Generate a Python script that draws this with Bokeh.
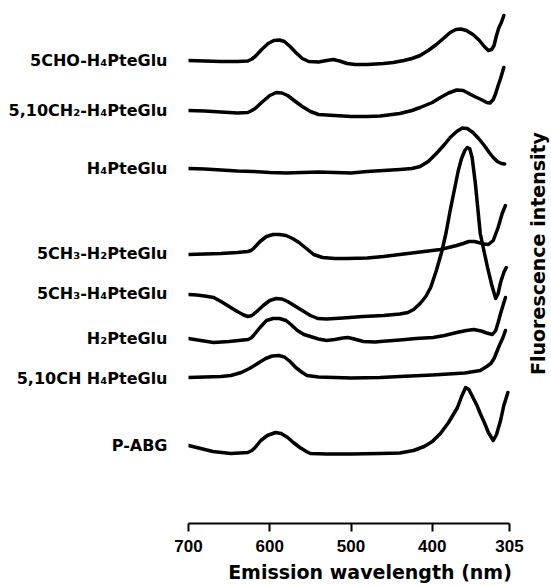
from bokeh.plotting import figure
from bokeh.models import Range1d, FixedTicker, Label
from bokeh.embed import file_html
from bokeh.resources import INLINE

# ---- data (emission wavelength in nm, relative intensity, arbitrary units) ----
labels = ["5CHO-H₄PteGlu", "5,10CH₂-H₄PteGlu", "H₄PteGlu", "5CH₃-H₂PteGlu",
          "5CH₃-H₄PteGlu", "H₂PteGlu", "5,10CH H₄PteGlu", "P-ABG"]
offsets = [463, 413, 355, 270, 230, 185, 145, 78]
x_ticks = [700, 600, 500, 400, 305]

wl_1 = [700, 680, 660, 640, 627, 622, 618, 610, 602, 595, 588, 582, 575, 568, 560, 552, 540, 530, 522, 514, 505,
        495, 480, 460, 448, 435, 425, 415, 405, 395, 385, 378, 371, 365, 358, 350, 342, 336, 331, 327, 324,
        321, 318, 315, 312]
int_1 = [0, -0.5, -1, -1, -0.5, 1.5, 4, 11, 17, 20, 20.5, 19, 14, 8, 2, -1, -1.5, 0, 1, -0.5, -3,
         -4, -4, -3, -2, 0, 2, 5, 10, 16, 23, 28, 31, 31.5, 30, 26, 20, 14, 10, 11, 15,
         25, 33, 38, 45]

wl_2 = [700, 680, 660, 640, 627, 622, 618, 610, 600, 592, 585, 578, 570, 560, 550, 540, 520, 500, 480, 464, 440,
        425, 415, 400, 390, 380, 370, 362, 355, 348, 340, 333, 329, 325, 322, 319, 316, 312]
int_2 = [0, -0.5, -1.5, -2.5, -2, 0, 2, 8, 15, 18, 17.5, 15, 10, 4, -1, -4, -5, -6, -6, -5.5, -3,
         0, 3, 8, 13, 17.5, 20.5, 20, 17, 14, 11, 8, 7.5, 11, 17, 25, 32, 43]

wl_3 = [700, 680, 660, 640, 620, 600, 580, 560, 540, 520, 500, 480, 460, 440, 425, 415, 405, 395, 385, 378,
        370, 363, 357, 350, 343, 336, 330, 325, 320, 315, 311]
int_3 = [0, -0.5, -1.5, -2.5, -3, -4, -4.5, -4, -3.5, -4, -4.5, -3, -2, -1, 0, 2, 7, 15, 24, 31,
         37, 40.5, 40, 36, 30, 23, 16, 11, 7, 5, 4.5]

wl_4 = [700, 680, 660, 640, 627, 623, 620, 612, 604, 596, 588, 580, 572, 564, 555, 546, 535, 520, 505, 480, 460,
        440, 420, 400, 390, 380, 370, 362, 355, 348, 341, 336, 331, 325, 319, 314, 310]
int_4 = [-1, -0.5, 0, 1, 2, 3, 5, 12, 17, 19, 19, 18, 15, 11, 5, -1, -4, -5, -5, -4.5, -3,
         -1, 1, 3, 4, 6, 8, 10, 12, 12, 10.5, 9.5, 9, 13, 26, 40, 48]

wl_5 = [700, 690, 680, 669, 660, 650, 640, 632, 627, 622, 616, 608, 600, 592, 585, 578, 570, 560, 550, 541,
        530, 510, 485, 460, 440, 430, 423, 415, 408, 402, 395, 388, 383, 378, 373, 368, 364, 360, 357, 354,
        351, 347, 344, 341, 336, 332, 327, 322, 319, 316, 312, 309]
int_5 = [-1, -1.5, -2.5, -4, -8, -13, -18, -21.5, -23, -22, -18, -12, -7, -5, -5.5, -8, -12, -17, -22, -25,
         -25.5, -24.5, -23, -22, -20.5, -19, -16, -10, -3, 6, 23, 43, 61, 83, 103, 123, 135, 143, 146, 145,
         136, 110, 85, 60, 41, 26, 9, -5, 0, 11, 21, 26]

wl_6 = [700, 685, 669, 650, 627, 623, 620, 612, 604, 596, 588, 580, 574, 566, 558, 550, 540, 530, 520, 510, 504,
        496, 485, 470, 464, 440, 420, 399, 385, 370, 358, 349, 340, 333, 326, 322, 319, 316, 313, 310]
int_6 = [0, -2, -4, -3, -1, 0.5, 3, 11, 18, 20, 20, 18, 14, 8, 4, 2, -0.5, -2, -1, 0.5, 1,
         -0.5, -3, -3.5, -3, -1.5, 0, 1, 3, 6, 8, 9, 7.5, 5.5, 4, 8, 16, 25, 33, 41]

wl_7 = [700, 680, 660, 648, 635, 625, 615, 605, 597, 589, 582, 575, 568, 560, 554, 540, 500, 464, 440, 400,
        360, 341, 333, 328, 324, 320, 317, 313, 310]
int_7 = [1, 1.5, 2, 3, 6, 10, 15, 20, 22.5, 23, 21.5, 17, 11, 6, 3, 1.5, 0.5, 1, 2, 3.5,
         5.5, 8, 12, 15, 20, 28, 34, 41, 48]

wl_8 = [700, 685, 670, 648, 627, 622, 618, 611, 603, 593, 586, 578, 571, 563, 555, 550, 530, 500, 464, 440, 423,
        410, 400, 390, 380, 369, 364, 359, 355, 350, 345, 341, 336, 331, 325, 321, 316, 312, 307]
int_8 = [0, -3, -6, -8, -7, -5, -2, 5, 10, 13, 12, 8, 3, -2, -6, -8, -8.5, -8.5, -8, -7.5, -5,
         -1, 4, 12, 23, 38, 49, 58, 56, 48, 40, 32, 23, 13, 5, 11, 25, 40, 53]

wavelengths = [wl_1, wl_2, wl_3, wl_4, wl_5, wl_6, wl_7, wl_8]
intensities = [int_1, int_2, int_3, int_4, int_5, int_6, int_7, int_8]

# ---- figure ----
NM_PER_PX = (700 - 305) / 321.0
FRAME_W = 363
p = figure(frame_width=FRAME_W, frame_height=515, min_border_left=188, min_border_right=0,
           min_border_top=8, min_border_bottom=0,
           x_range=Range1d(700, 700 - FRAME_W * NM_PER_PX), y_range=Range1d(0, 515),
           output_backend="svg", toolbar_location=None)
p.outline_line_color = None
p.grid.visible = False
p.background_fill_color = "white"
p.border_fill_color = "white"

for off, wl, it in zip(offsets, wavelengths, intensities):
    p.line(wl, [off + v for v in it], line_color="black", line_width=3.5,
           line_join="round", line_cap="round")

# x axis
xa = p.xaxis[0]
xa.bounds = (305, 700)
xa.ticker = FixedTicker(ticks=x_ticks)
xa.minor_tick_line_color = None
xa.axis_line_width = 2
xa.axis_line_color = "black"
xa.major_tick_line_width = 2
xa.major_tick_line_color = "black"
xa.major_tick_out = 8
xa.major_tick_in = 0
xa.major_label_standoff = 8
xa.major_label_text_font = "Liberation Sans"
xa.major_label_text_font_style = "bold"
xa.major_label_text_font_size = "17px"
xa.major_label_text_color = "black"
xa.axis_label = "Emission wavelength (nm)"
xa.axis_label_text_font = "DejaVu Sans"
xa.axis_label_text_font_style = "bold"
xa.axis_label_text_font_size = "19px"
xa.axis_label_text_color = "black"
xa.axis_label_standoff = 6

# y axis used for the curve labels
ya = p.yaxis[0]
ya.ticker = FixedTicker(ticks=offsets)
ya.major_label_overrides = {o: t for o, t in zip(offsets, labels)}
ya.axis_line_color = None
ya.major_tick_line_color = None
ya.minor_tick_line_color = None
ya.major_label_standoff = 15
ya.major_label_text_font = "DejaVu Sans"
ya.major_label_text_font_style = "bold"
ya.major_label_text_font_size = "16px"
ya.major_label_text_color = "black"

p.add_layout(Label(x=269.5, y=270, text="Fluorescence intensity", angle=90, angle_units="deg",
                   text_align="center", text_baseline="middle",
                   text_font="DejaVu Sans", text_font_style="bold", text_font_size="19px",
                   text_color="black"))

open("out.html", "w").write(file_html(p, INLINE))
